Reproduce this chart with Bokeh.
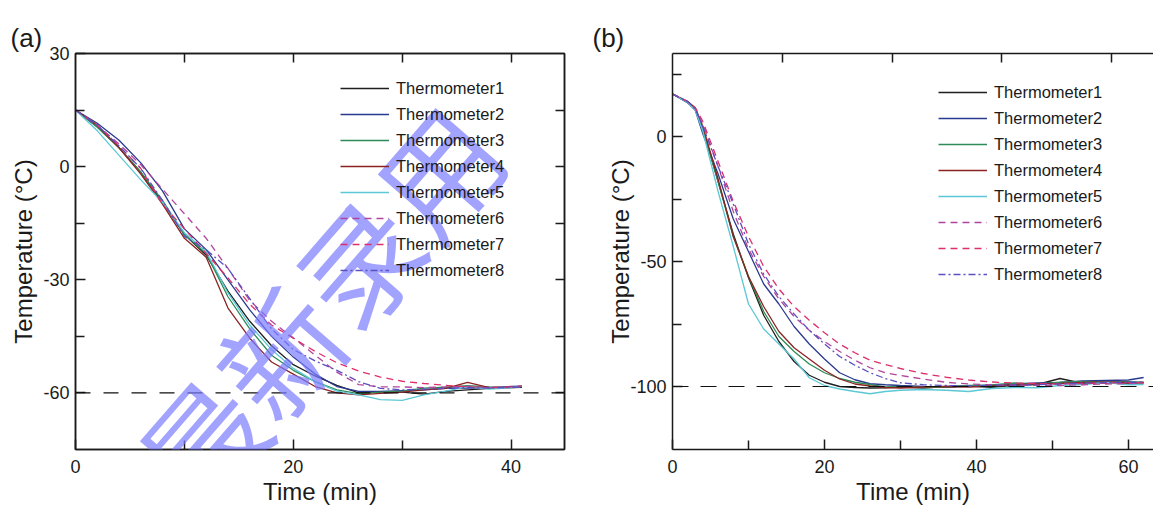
from bokeh.plotting import figure
from bokeh.models import Range1d, LinearAxis, FixedTicker, Span, Legend, LegendItem, Label
from bokeh.layouts import row
from bokeh.embed import file_html
from bokeh.resources import INLINE

FONT = "Liberation Sans"
CJK = "Noto Sans CJK SC"
INK = "#1a1a1a"

names = ["Thermometer1", "Thermometer2", "Thermometer3", "Thermometer4",
         "Thermometer5", "Thermometer6", "Thermometer7", "Thermometer8"]
colors = ["#1f1f1f", "#2a3a8f", "#2e8b57", "#8b2323",
          "#5cc8d6", "#b0459e", "#dc2f6c", "#5a50c0"]
dashes = ["solid", "solid", "solid", "solid", "solid", "7 5", "7 5", "7 3 2 3"]

# ---------------- panel (a) data ----------------
t_a = [0, 2, 4, 6, 8, 10, 12, 14, 16, 18, 20, 22, 24, 26, 28, 30, 32, 34, 36, 38, 40, 41]
a_T1 = [15, 10.5, 5, -1.5, -9.5, -18, -23.5, -33, -41, -47.5, -52.5, -55.5, -58, -60, -59.8, -59.8, -60.3, -59.6, -59.2, -58.8, -58.6, -58.5]
a_T2 = [15, 11.5, 7, 1, -6.5, -16.5, -22, -30, -38, -45, -50.5, -55, -58.3, -59.6, -59.6, -59.4, -59.2, -58.8, -58.7, -58.6, -58.3, -58.2]
a_T3 = [15, 10.5, 5, -1.5, -9, -18, -23, -34.5, -43, -50, -54, -57, -59.2, -60.2, -59.8, -59.5, -58.7, -58.5, -58.1, -58.4, -58.6, -58.3]
a_T4 = [15, 11, 5, -2, -10, -19, -24, -37.5, -45.5, -51.8, -55, -58.3, -60, -60.5, -60.1, -59.8, -59.2, -58.8, -57.2, -58.6, -58.5, -58.2]
a_T5 = [15, 9.5, 3, -3.5, -9.5, -17.5, -22.5, -33.5, -42, -48.5, -53.5, -57, -59.5, -60.5, -61.8, -62, -60.5, -59.5, -58.3, -59, -58.6, -58.2]
a_T6 = [15, 11, 6, 0.5, -6, -12.5, -19, -27, -35.5, -41, -45.4, -50, -54.5, -57.8, -58.4, -58.4, -58.6, -58.4, -58.3, -58.5, -58.6, -58.4]
a_T7 = [15, 11, 5.5, -0.5, -10, -16.5, -23, -29.5, -36.5, -42, -45.5, -49, -52, -54.2, -55.8, -56.9, -57.5, -58, -58.4, -58.6, -58.4, -58.2]
a_T8 = [15, 11, 5.5, -0.5, -9, -18.5, -22, -27, -35, -43, -48.5, -51.5, -54, -57, -58.8, -59.2, -59, -58.8, -58.6, -58.7, -58.5, -58.4]
series_a = [a_T1, a_T2, a_T3, a_T4, a_T5, a_T6, a_T7, a_T8]

# ---------------- panel (b) data ----------------
t_b = [0, 2, 3, 4, 6, 8, 10, 12, 14, 16, 18, 20, 22, 24, 26, 28, 30, 33, 36, 39, 42, 45, 48, 51, 54, 57, 60, 62]
b_T1 = [17, 13.5, 11, 3, -18, -39, -56.5, -71.5, -82, -90, -95.5, -98.3, -100, -100.4, -100.6,
        -100.5, -100.2, -100.6, -100, -99.8, -100.3, -99.5, -99.2, -96.8, -98.8, -98.5, -98.7, -98.4]
b_T2 = [17, 13.5, 10.5, 1, -15, -33, -46, -59, -67, -76, -83, -89, -94.5, -97.3, -98.9,
        -99.3, -99.6, -100, -100.3, -99.8, -99.6, -99, -98.6, -98.4, -97.8, -97.6, -97.4, -96.4]
b_T3 = [17, 14, 11, 3, -18, -40, -56, -70, -80, -86, -91, -94.5, -96.8, -98.3, -99.2,
        -100.2, -100, -100.4, -100.2, -99.6, -99.4, -98.6, -99, -98.3, -98, -98.2, -98.1, -98.3]
b_T4 = [17, 14, 11.5, 4, -17, -40, -56, -68, -78, -84.5, -89, -93.5, -97, -99, -99.8,
        -100.4, -100.6, -100.2, -100, -100.2, -99.8, -99.3, -99, -98.8, -98.4, -98.2, -98.4, -98.5]
b_T5 = [17, 13.5, 10.5, 2, -22, -44, -67, -77, -83, -89, -96.5, -99.6, -101, -102, -102.9,
        -102, -101.5, -101.2, -101.5, -102, -100.8, -100.4, -100.5, -99.6, -99.2, -98.4, -99.3, -99.2]
b_T6 = [17, 14, 11, 5, -12, -30, -45, -56, -65, -72, -77.5, -82, -86, -89.5, -92.5,
        -94.5, -95.6, -97, -98.3, -99, -99.3, -99.5, -99.5, -99.6, -99.3, -99, -98.8, -98.6]
b_T7 = [17, 14, 11.5, 6, -10, -26, -40, -52, -61, -68, -73.5, -78.5, -83, -86.5, -89.5,
        -91.2, -92.8, -94.8, -96.3, -97.4, -98.2, -98.6, -98.8, -99, -98.8, -98.6, -98.5, -98.4]
b_T8 = [17, 14, 11, 4, -12, -27, -43, -55, -64, -71, -77.5, -83, -88, -91.5, -94.5,
        -96.8, -98.5, -99.3, -99.6, -99.8, -99.5, -99.4, -99.3, -99, -98.6, -98.4, -98.3, -98.2]
series_b = [b_T1, b_T2, b_T3, b_T4, b_T5, b_T6, b_T7, b_T8]


def style_axis(ax, ticks, minor):
    ax.ticker = FixedTicker(ticks=ticks, minor_ticks=minor)
    ax.major_label_overrides = {t: str(t) for t in ticks}
    ax.axis_line_color = INK
    ax.axis_line_width = 1.5
    ax.major_tick_in = 10
    ax.major_tick_out = 0
    ax.minor_tick_in = 9
    ax.minor_tick_out = 0
    ax.major_tick_line_color = INK
    ax.minor_tick_line_color = INK
    ax.major_tick_line_width = 1.5
    ax.minor_tick_line_width = 1.5
    ax.major_label_text_font = FONT
    ax.major_label_text_font_size = "18px"
    ax.major_label_text_color = INK
    ax.axis_label_text_font = FONT
    ax.axis_label_text_font_size = "24px"
    ax.axis_label_text_font_style = "normal"
    ax.axis_label_text_color = INK


def make_panel(tt, series, width, xr, yr, borders, xt, xm, yt, ym, top_minor, right_minor,
               ref_level, dash, leg_loc, ylab_standoff, outline, tag, tag_offset):
    p = figure(width=width, height=512, x_range=Range1d(*xr), y_range=Range1d(*yr),
               output_backend="svg", toolbar_location=None,
               min_border_left=borders[0], min_border_right=borders[1],
               min_border_top=borders[2], min_border_bottom=borders[3])
    p.xgrid.visible = False
    p.ygrid.visible = False
    p.background_fill_color = "white"
    p.border_fill_color = "white"
    if outline:
        p.outline_line_color = INK
        p.outline_line_width = 1.5
    else:
        p.outline_line_color = None

    p.title.text = tag
    p.title.align = "left"
    p.title.offset = tag_offset
    p.title.text_font = FONT
    p.title.text_font_size = "26px"
    p.title.text_font_style = "normal"
    p.title.text_color = INK
    p.title.standoff = 2

    style_axis(p.xaxis[0], xt, xm)
    style_axis(p.yaxis[0], yt, ym)
    p.xaxis[0].axis_label = "Time (min)"
    p.yaxis[0].axis_label = "Temperature (\u00b0C)"
    p.xaxis[0].major_label_standoff = 10
    p.xaxis[0].axis_label_standoff = 2
    p.yaxis[0].major_label_standoff = 6
    p.yaxis[0].axis_label_standoff = ylab_standoff

    top = LinearAxis()
    style_axis(top, [], top_minor)
    p.add_layout(top, "above")
    if right_minor is not None:
        right = LinearAxis()
        style_axis(right, [], right_minor)
        p.add_layout(right, "right")

    p.add_layout(Span(location=ref_level, dimension="width", line_color="#111111",
                      line_width=1.2, line_dash=dash))

    items = []
    for name, col, ds, ys in zip(names, colors, dashes, series):
        r = p.line(tt, ys, line_color=col, line_width=1.3, line_dash=ds)
        items.append(LegendItem(label=name, renderers=[r]))
    leg = Legend(items=items, location=leg_loc, glyph_width=49, glyph_height=20,
                 label_height=20, spacing=6, padding=0, margin=0, label_standoff=7,
                 label_text_font=FONT, label_text_font_size="16.5px",
                 label_text_color=INK, border_line_color=None, background_fill_alpha=0)
    p.add_layout(leg)
    return p


pa = make_panel(t_a, series_a, 580, (0, 44.9), (-75, 30), (75, 16, 53, 63),
                [0, 20, 40], [10, 30], [-60, -30, 0, 30], [-45, -15, 15],
                [10, 20, 30, 40], [-60, -45, -30, -15, 0, 15],
                -60, "15 13", (265, 169), 3, True, "(a)", -65)
pb = make_panel(t_b, series_b, 573, (0, 63.3), (-125.2, 33.2), (92, 0, 53, 63),
                [0, 20, 40, 60], [10, 30, 50], [-100, -50, 0], [-75, -25, 25],
                [14.45, 28.9, 43.35, 57.8], None,
                -100, "16 12", (266, 165), -7, False, "(b)", -80)

# watermark
pa.add_layout(Label(x=317, y=305, x_units="canvas", y_units="canvas",
                    text="最新录用", text_font=CJK, text_font_size="120px",
                    text_color="#7b7bff", text_alpha=0.7, angle=49, angle_units="deg",
                    text_align="center", text_baseline="middle", level="overlay"))

layout = row(pa, pb)
open("out.html", "w").write(file_html(layout, INLINE))
